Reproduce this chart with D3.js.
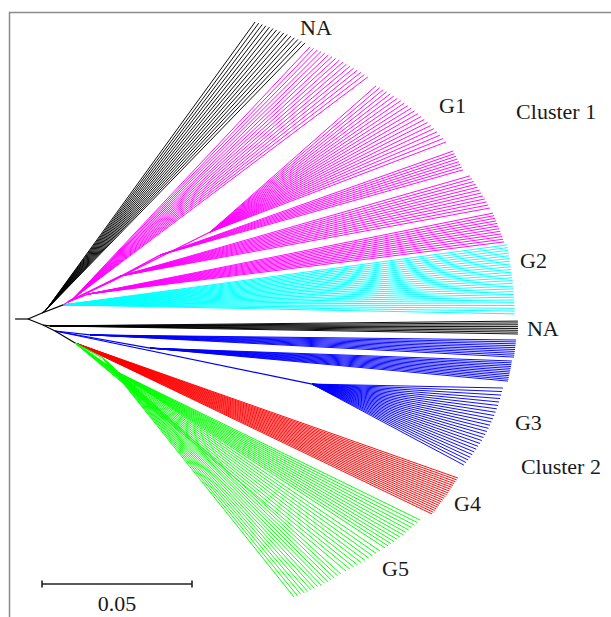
<!DOCTYPE html>
<html>
<head>
<meta charset="utf-8">
<script src="https://cdn.jsdelivr.net/npm/d3@7"></script>
<style>
  html, body { margin: 0; padding: 0; background: #fff; }
  svg { display: block; }
</style>
</head>
<body>
<svg id="chart" width="611" height="617"></svg>
<script>
// ---------------- DATA (branch positions in substitutions/site, relative to the root) ----------------
// Internal nodes of the tree
const nodeIds     = ["R", "U", "NA1n", "C", "M", "G1a", "G1b0", "G1b", "G1c", "G1d1", "G1d2",
                     "L", "NA2n", "X", "G3a", "G3b", "G3c", "Y", "G5a", "G5c"];
const nodeParent  = [null, "R", "U", "U", "C", "M", "M", "G1b0", "G1b0", "M", "M",
                     "R", "L", "L", "X", "X", "X", "X", "Y", "Y"];
const nodeGroup   = ["", "", "NA", "", "G1", "G1", "G1", "G1", "G1", "G1", "G1",
                     "", "NA", "", "G3", "G3", "G3", "", "G5", "G5"];
const nodeX       = [0, 0.0047, 0.0060, 0.0117, 0.0133, 0.0153, 0.0273, 0.0607, 0.0440, 0.0307, 0.0200,
                     0.0050, 0.0073, 0.0090, 0.0207, 0.0407, 0.0947, 0.0157, 0.0297, 0.0250];
const nodeY       = [0, 0.0020, 0.0030, 0.0047, 0.0057, 0.0070, 0.0123, 0.0290, 0.0213, 0.0143, 0.0083,
                     -0.0020, -0.0023, -0.0040, -0.0053, -0.0097, -0.0217, -0.0080, -0.0177, -0.0130];
const rootStub    = -0.0043;

// Fans of terminal branches (tips) hanging from one internal node
const fanNode   = ["NA1n", "G1a", "G1b", "G1c", "G1d1", "G1d2", "C", "NA2n", "G3a", "G3b", "G3c", "Y", "G5a", "Y", "G5c"];
const fanGroup  = ["NA", "G1", "G1", "G1", "G1", "G1", "G2", "NA", "G3", "G3", "G3", "G4", "G5", "G5", "G5"];
const fanCount  = [15, 17, 22, 8, 12, 12, 26, 8, 10, 12, 26, 21, 13, 10, 15];
const fanX1     = [0.0757, 0.0940, 0.1160, 0.1417, 0.1473, 0.1550, 0.1597, 0.1633, 0.1627, 0.1613, 0.1583, 0.1433, 0.1307, 0.1173, 0.1043];
const fanY1     = [0.0990, 0.0907, 0.0777, 0.0560, 0.0477, 0.0353, 0.0247, -0.0007, -0.0070, -0.0140, -0.0230, -0.0530, -0.0670, -0.0773, -0.0850];
const fanX2     = [0.0923, 0.1133, 0.1393, 0.1450, 0.1540, 0.1587, 0.1623, 0.1633, 0.1620, 0.1600, 0.1453, 0.1347, 0.1190, 0.1060, 0.0887];
const fanY2     = [0.0920, 0.0807, 0.0590, 0.0497, 0.0370, 0.0257, 0.0017, -0.0050, -0.0127, -0.0207, -0.0487, -0.0650, -0.0763, -0.0840, -0.0927];

// Group labels and colours
const groupNames  = ["NA", "G1", "G2", "G3", "G4", "G5"];
const groupColors = ["#000000", "#ff00ff", "#00ffff", "#0000ff", "#ff0000", "#00ff00"];
const labelText   = ["NA", "G1", "Cluster 1", "G2", "NA", "G3", "Cluster 2", "G4", "G5"];
const labelX      = [0.0907, 0.1370, 0.1627, 0.1640, 0.1663, 0.1623, 0.1643, 0.1420, 0.1180];
const labelY      = [0.0947, 0.0687, 0.0667, 0.0170, -0.0057, -0.0370, -0.0517, -0.0640, -0.0857];
const scaleBarValue = 0.05;
const scaleBarLabel = "0.05";

// ---------------- DRAWING ----------------
const svg = d3.select("#chart");
const color = d3.scaleOrdinal().domain(groupNames).range(groupColors).unknown("#000000");
// 0.05 substitutions = 150 px
const x = d3.scaleLinear().domain([0, 0.05]).range([28, 178]);
const y = d3.scaleLinear().domain([0, 0.05]).range([319, 169]);

// frame
svg.append("path")
  .attr("d", "M9.5,617 L9.5,12.5 L611,12.5")
  .attr("fill", "none").attr("stroke", "#8a8a8a").attr("stroke-width", 1.5);

const nodeMap = new Map(nodeIds.map((id, i) => [id, { id, parent: nodeParent[i], group: nodeGroup[i], x: nodeX[i], y: nodeY[i] }]));

// build hierarchy through d3.stratify for the internal structure
const root = d3.stratify().id(d => d.id).parentId(d => d.parent)(Array.from(nodeMap.values()));

const g = svg.append("g").attr("fill", "none").attr("stroke-linecap", "butt");

// root stub
g.append("line")
  .attr("x1", x(rootStub)).attr("y1", y(0))
  .attr("x2", x(0)).attr("y2", y(0))
  .attr("stroke", "#000").attr("stroke-width", 1.2);

// tip branches
const tips = [];
fanNode.forEach((nid, i) => {
  const n = nodeMap.get(nid);
  const a1 = Math.atan2(fanY1[i] - n.y, fanX1[i] - n.x), r1 = Math.hypot(fanX1[i] - n.x, fanY1[i] - n.y);
  const a2 = Math.atan2(fanY2[i] - n.y, fanX2[i] - n.x), r2 = Math.hypot(fanX2[i] - n.x, fanY2[i] - n.y);
  const angle = d3.scaleLinear().domain([0, fanCount[i] - 1]).range([a1, a2]);
  const rad = d3.scaleLinear().domain([0, fanCount[i] - 1]).range([r1, r2]);
  d3.range(fanCount[i]).forEach(k => {
    tips.push({ group: fanGroup[i], x0: n.x, y0: n.y,
                x1: n.x + rad(k) * Math.cos(angle(k)), y1: n.y + rad(k) * Math.sin(angle(k)) });
  });
});

g.selectAll("line.tip").data(tips).join("line")
  .attr("class", "tip")
  .attr("x1", d => x(d.x0)).attr("y1", d => y(d.y0))
  .attr("x2", d => x(d.x1)).attr("y2", d => y(d.y1))
  .attr("stroke", d => color(d.group))
  .attr("stroke-width", 0.95);

// internal branches
g.selectAll("line.branch").data(root.descendants().filter(d => d.parent)).join("line")
  .attr("class", "branch")
  .attr("x1", d => x(d.parent.data.x)).attr("y1", d => y(d.parent.data.y))
  .attr("x2", d => x(d.data.x)).attr("y2", d => y(d.data.y))
  .attr("stroke", d => color(d.data.group || "none"))
  .attr("stroke-width", 1.2);

// labels
svg.append("g").selectAll("text").data(labelText).join("text")
  .attr("x", (d, i) => x(labelX[i])).attr("y", (d, i) => y(labelY[i]))
  .attr("font-family", "'Liberation Serif', 'Times New Roman', serif")
  .attr("font-size", 22).attr("fill", "#1a1a1a")
  .text(d => d);

// scale bar
const bar = d3.scaleLinear().domain([0, scaleBarValue]).range([42, 192]);
const sb = svg.append("g").attr("stroke", "#222").attr("stroke-width", 1.6);
sb.append("line").attr("x1", bar(0)).attr("x2", bar(scaleBarValue)).attr("y1", 584).attr("y2", 584);
sb.append("line").attr("x1", bar(0)).attr("x2", bar(0)).attr("y1", 580.5).attr("y2", 587.5);
sb.append("line").attr("x1", bar(scaleBarValue)).attr("x2", bar(scaleBarValue)).attr("y1", 580.5).attr("y2", 587.5);
svg.append("text")
  .attr("x", (bar(0) + bar(scaleBarValue)) / 2).attr("y", 611)
  .attr("text-anchor", "middle")
  .attr("font-family", "'Liberation Serif', 'Times New Roman', serif")
  .attr("font-size", 22).attr("fill", "#1a1a1a")
  .text(scaleBarLabel);
</script>
</body>
</html>
